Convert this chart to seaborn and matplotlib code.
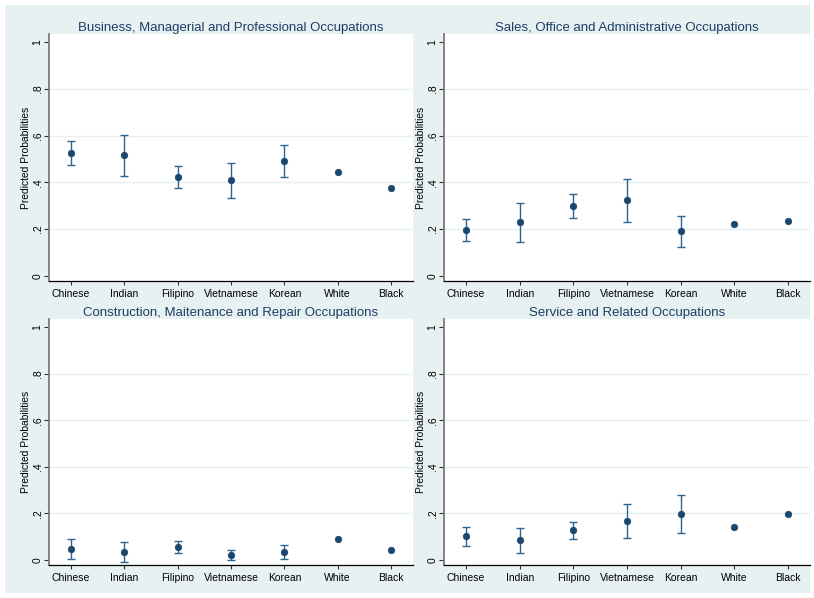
import matplotlib
matplotlib.use("Agg")
import matplotlib.pyplot as plt
import seaborn as sns
import pandas as pd

groups = ["Chinese", "Indian", "Filipino", "Vietnamese", "Korean", "White", "Black"]
titles = [
    "Business, Managerial and Professional Occupations",
    "Sales, Office and Administrative Occupations",
    "Construction, Maitenance and Repair Occupations",
    "Service and Related Occupations",
]

# predicted probabilities with 95% interval bounds (None = no interval drawn)
business_est = [0.524, 0.517, 0.423, 0.409, 0.491, 0.446, 0.377]
business_lo = [0.474, 0.429, 0.377, 0.333, 0.422, None, None]
business_hi = [0.575, 0.604, 0.471, 0.483, 0.561, None, None]

sales_est = [0.198, 0.229, 0.299, 0.323, 0.191, 0.222, 0.236]
sales_lo = [0.151, 0.147, 0.249, 0.229, 0.125, None, None]
sales_hi = [0.245, 0.312, 0.349, 0.416, 0.256, None, None]

construction_est = [0.047, 0.036, 0.057, 0.023, 0.034, 0.090, 0.041]
construction_lo = [0.004, -0.007, 0.030, 0.000, 0.004, None, None]
construction_hi = [0.089, 0.077, 0.083, 0.044, 0.063, None, None]

service_est = [0.103, 0.084, 0.129, 0.167, 0.197, 0.140, 0.199]
service_lo = [0.061, 0.031, 0.091, 0.094, 0.116, None, None]
service_hi = [0.143, 0.139, 0.164, 0.239, 0.279, None, None]

ytick_vals = [0, 0.2, 0.4, 0.6, 0.8, 1.0]
ytick_labels = ["0", ".2", ".4", ".6", ".8", "1"]

panels = [
    (business_est, business_lo, business_hi),
    (sales_est, sales_lo, sales_hi),
    (construction_est, construction_lo, construction_hi),
    (service_est, service_lo, service_hi),
]

sns.set_theme(style="white")
plt.rcParams["font.family"] = ["Liberation Sans", "DejaVu Sans"]

BG = "#e8f1f2"
NAVY = "#1a476f"
BAR = "#2f6390"
TITLE = "#1e3d66"

W, H = 814, 598
fig = plt.figure(figsize=(W / 100, H / 100), dpi=100, facecolor="white")

# outer graph region
fig.patches.append(plt.Rectangle((5 / W, 5 / H), 805 / W, 588 / H,
                                 transform=fig.transFigure, facecolor=BG,
                                 edgecolor="none", zorder=-5))

# plot regions in pixel coordinates: (left, top, right, bottom)
boxes = [(49, 34, 413, 281), (444, 34, 810, 281),
         (49, 319, 413, 565), (444, 319, 810, 565)]

for (l, t, r, b), title, (est, lo, hi) in zip(boxes, titles, panels):
    ax = fig.add_axes([l / W, 1 - b / H, (r - l) / W, (b - t) / H], zorder=1)
    ax.set_facecolor("white")
    df = pd.DataFrame({"x": range(len(groups)), "group": groups, "p": est,
                       "lo": lo, "hi": hi})
    ci = df.dropna(subset=["lo", "hi"])
    ax.errorbar(ci["x"], ci["p"],
                yerr=[ci["p"] - ci["lo"].astype(float), ci["hi"].astype(float) - ci["p"]],
                fmt="none", ecolor=BAR, elinewidth=1.0, capsize=2.6,
                capthick=1.0, zorder=2)
    sns.scatterplot(data=df, x="x", y="p", ax=ax, color=NAVY, s=22,
                    edgecolor=NAVY, linewidth=0.5, zorder=3, legend=False)

    ax.set_xlim(-0.41, 6.41)
    ax.set_ylim(-0.022, 1.035)
    ax.set_xticks(range(len(groups)))
    ax.set_xticklabels(groups, fontsize=7.5, color="black")
    ax.set_yticks(ytick_vals)
    ax.set_yticklabels(ytick_labels, fontsize=7.5, rotation=90, va="center",
                       color="black")
    for g in [0.2, 0.4, 0.6, 0.8]:
        ax.axhline(g, color=BG, lw=1.0, zorder=1)
    ax.set_xlabel("")
    ax.set_ylabel("Predicted Probabilities", fontsize=7.4, color="black",
                  labelpad=1)
    ax.set_title(title, fontsize=9.5, color=TITLE, pad=2.5)

    for side in ["top", "right"]:
        ax.spines[side].set_visible(False)
    ax.spines["left"].set_color("#7a7a7a")
    ax.spines["left"].set_linewidth(1.3)
    ax.spines["bottom"].set_color("black")
    ax.spines["bottom"].set_linewidth(0.9)
    ax.tick_params(axis="y", direction="out", length=3.8, width=0.8,
                   color="#333333", pad=0.8, left=True)
    ax.tick_params(axis="x", direction="out", length=3, width=0.8,
                   color="#333333", pad=2.5, bottom=True)

fig.savefig("out.png", dpi=100, facecolor="white")
